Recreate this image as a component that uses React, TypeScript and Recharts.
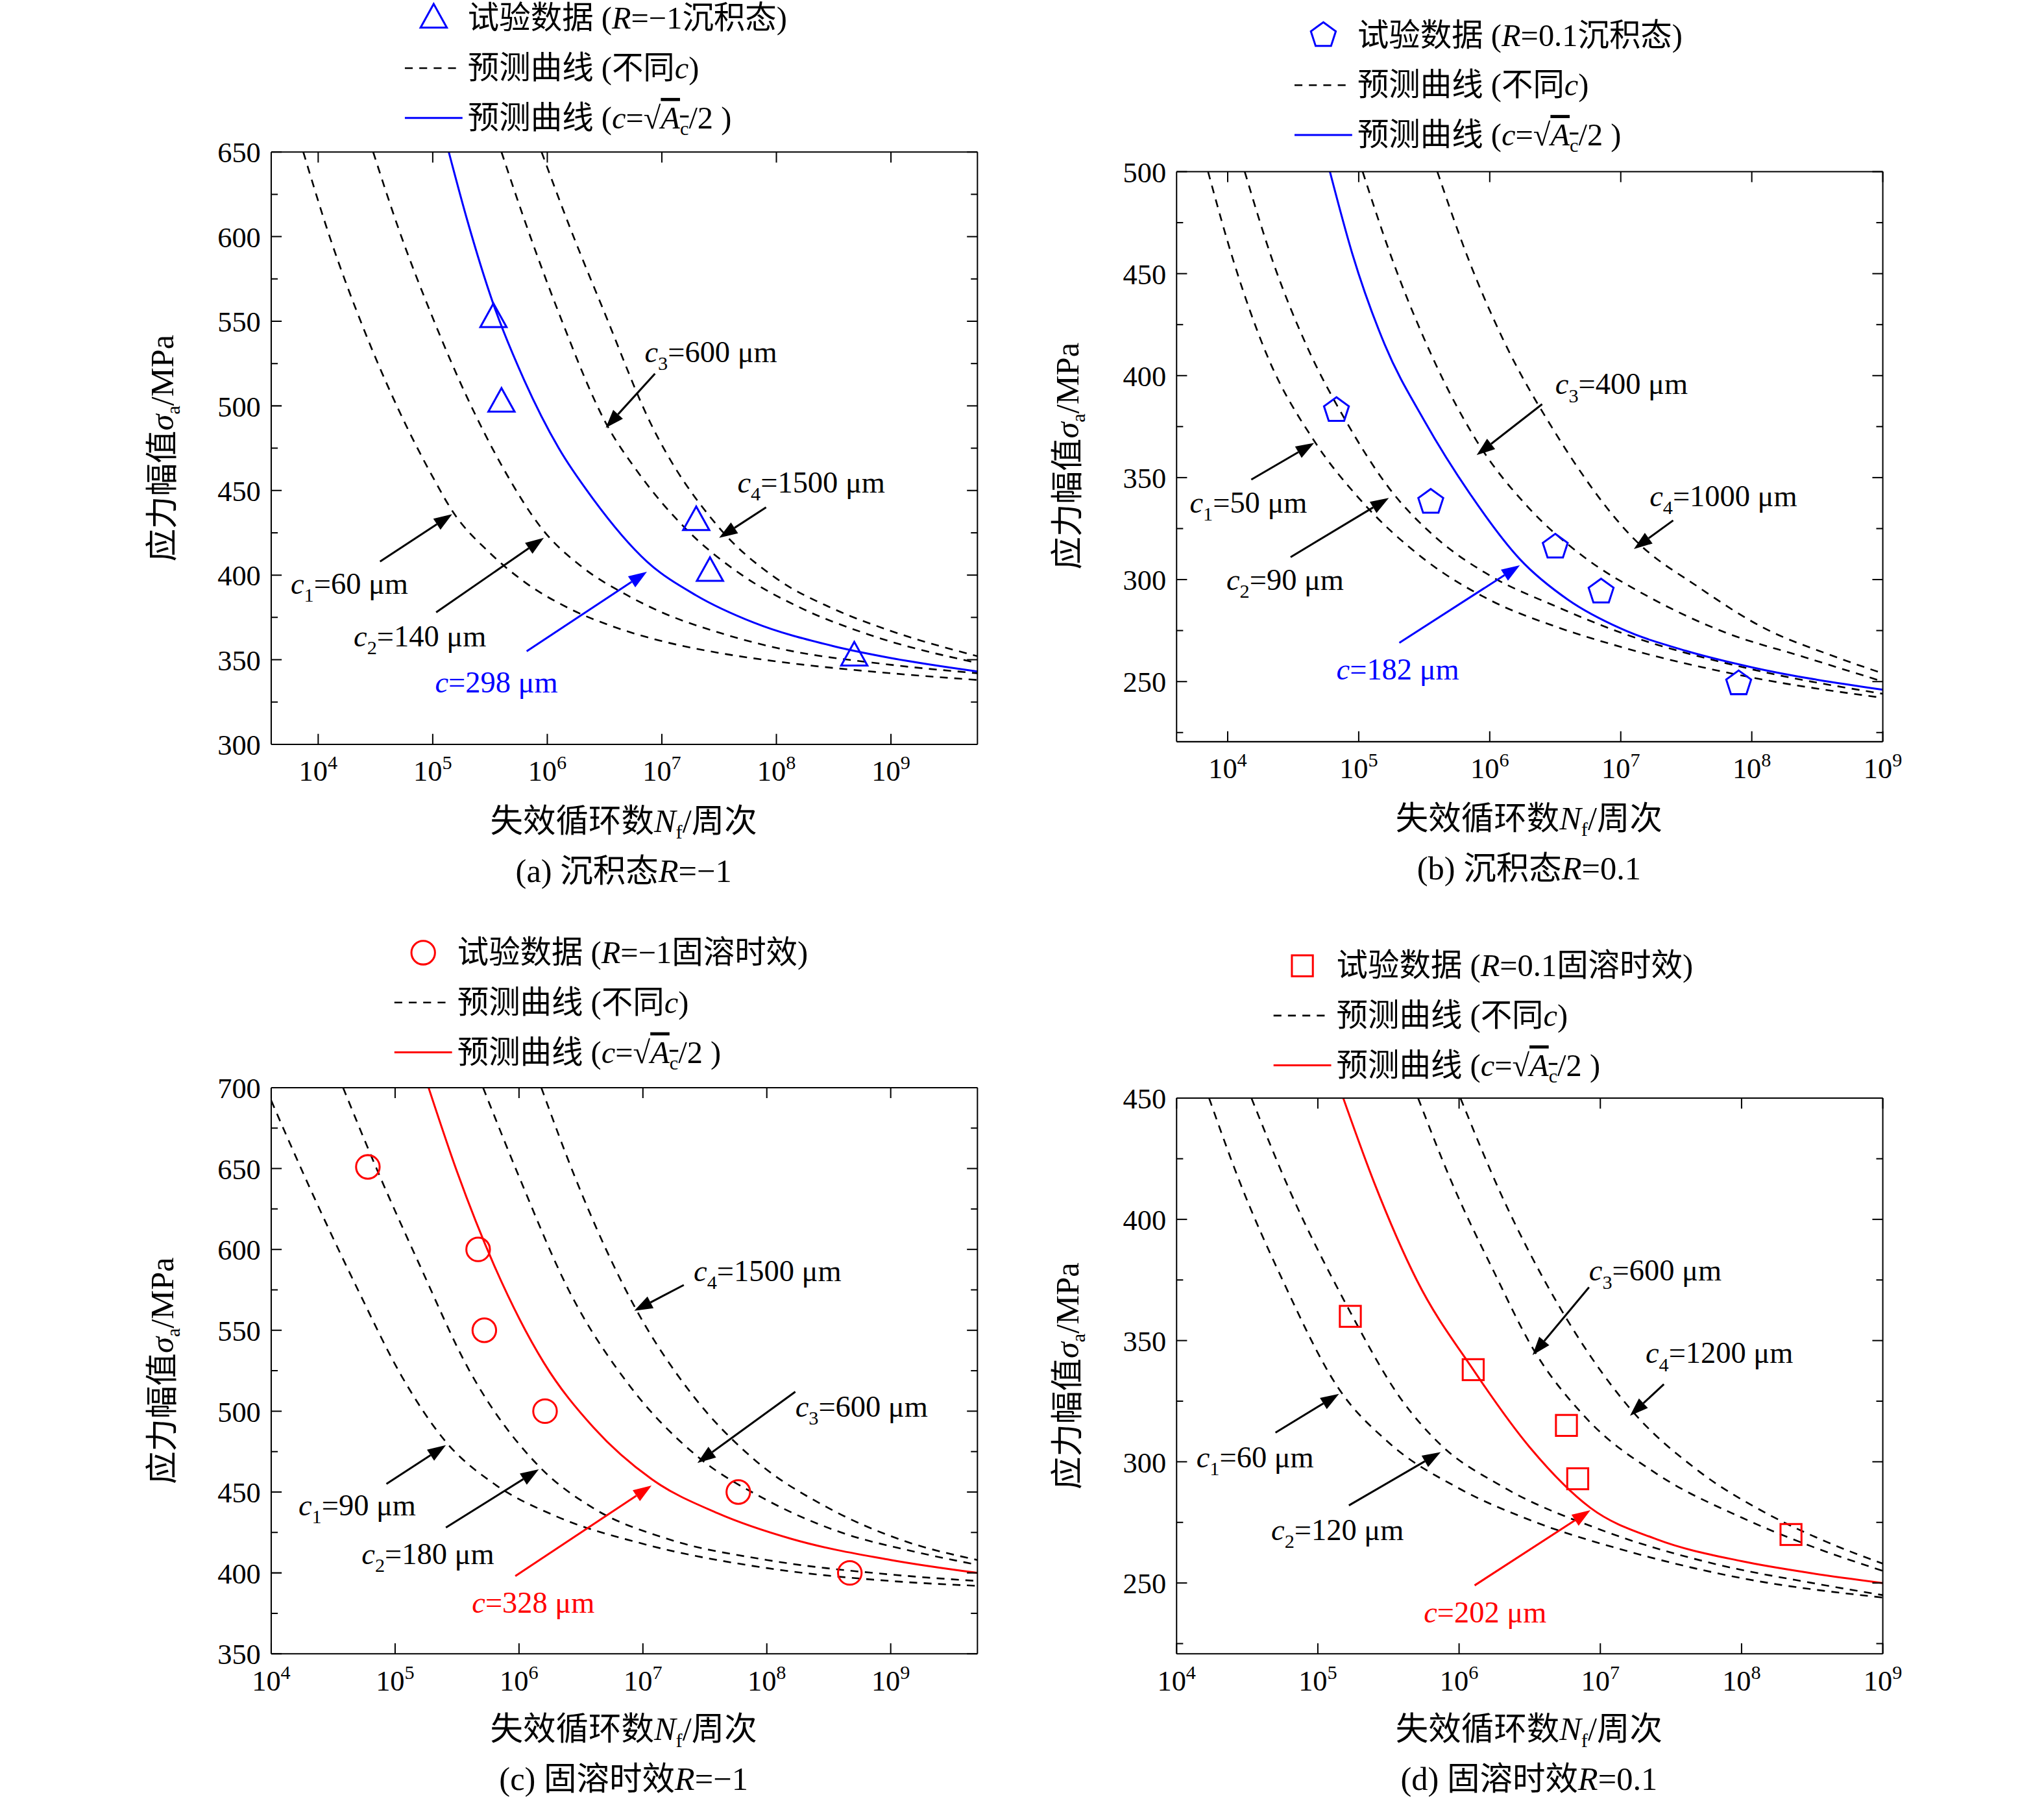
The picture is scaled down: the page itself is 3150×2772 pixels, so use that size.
import React from "react";
import { ComposedChart, Line, Scatter, XAxis, YAxis, ReferenceLine, ReferenceDot } from "recharts";

// curves as [lg N, sigma]
const aC1 = [[3.87, 650], [4.1, 600], [4.4, 545], [4.7, 498], [5.0, 458], [5.17, 438], [5.5, 413], [5.8, 396], [6.2, 380], [6.6, 369], [7, 361], [7.5, 354], [8, 349], [9, 342], [9.76, 338]];
const aC2 = [[4.48, 650], [4.7, 605], [5.0, 552], [5.3, 505], [5.6, 465], [5.97, 426], [6.3, 405], [6.7, 388], [7, 378], [7.5, 366], [8, 357], [9, 347], [9.76, 342]];
const aFit = [[5.14, 650], [5.3, 610], [5.53, 560], [5.8, 515], [6.1, 475], [6.4, 445], [6.87, 408], [7.3, 388], [7.8, 372], [8.5, 358], [9, 351], [9.76, 343]];
const aC3 = [[5.6, 650], [5.8, 610], [6.1, 555], [6.51, 490], [6.8, 460], [7.2, 428], [7.7, 400], [8.2, 381], [8.8, 365], [9.76, 348]];
const aC4 = [[5.95, 650], [6.2, 605], [6.5, 555], [6.9, 490], [7.5, 428], [8, 398], [8.5, 380], [9, 367], [9.76, 352]];
const aPts = [[5.53, 552], [5.6, 502], [7.3, 432], [7.42, 402], [8.68, 352]];

const bC1 = [[3.85, 500], [4.05, 455], [4.3, 410], [4.66, 368], [5.0, 340], [5.5, 310], [6, 290], [6.5, 277], [7, 267], [8, 252], [9, 242]];
const bC2 = [[4.13, 500], [4.35, 455], [4.6, 415], [4.9, 378], [5.23, 345], [5.6, 320], [6, 302], [6.5, 287], [7, 274], [8, 256], [9, 244]];
const bFit = [[4.78, 500], [4.95, 460], [5.2, 415], [5.5, 378], [5.85, 342], [6.23, 310], [6.6, 290], [7, 276], [7.5, 265], [8, 257], [9, 246]];
const bC3 = [[5.03, 500], [5.25, 458], [5.5, 418], [5.9, 368], [6.3, 335], [6.7, 312], [7.2, 292], [7.8, 274], [8.4, 262], [9, 250]];
const bC4 = [[5.6, 500], [5.85, 455], [6.1, 418], [6.5, 372], [7.1, 320], [7.6, 296], [8.1, 276], [8.6, 263], [9, 254]];
const bPts = [[4.83, 383], [5.55, 338], [6.5, 316], [6.85, 294], [7.9, 249]];

const cC1 = [[4, 692], [4.3, 640], [4.7, 575], [5.05, 522], [5.41, 481], [5.8, 455], [6.3, 435], [7, 418], [8, 403], [9, 395], [9.7, 392]];
const cC2 = [[4.58, 700], [4.85, 650], [5.2, 590], [5.6, 525], [6.16, 466], [6.6, 440], [7.2, 421], [8, 408], [9, 399], [9.7, 395]];
const cFit = [[5.27, 700], [5.5, 648], [5.8, 590], [6.2, 530], [6.6, 490], [7.07, 458], [7.6, 437], [8.2, 421], [9, 408], [9.7, 400]];
const cC3 = [[5.71, 700], [6, 645], [6.4, 575], [6.9, 515], [7.44, 472], [8, 445], [8.6, 425], [9.2, 413], [9.7, 405]];
const cC4 = [[6.18, 700], [6.45, 645], [6.93, 565], [7.4, 510], [7.9, 470], [8.5, 440], [9.1, 420], [9.7, 408]];
const cPts = [[4.78, 651], [5.67, 600], [5.72, 550], [6.21, 500], [7.77, 450], [8.67, 400]];

const dC1 = [[4.23, 450], [4.45, 415], [4.75, 375], [5.15, 330], [5.5, 308], [6, 289], [6.5, 276], [7.2, 263], [8, 252], [9, 244]];
const dC2 = [[4.53, 450], [4.8, 412], [5.2, 365], [5.6, 325], [5.87, 307], [6.3, 290], [7, 272], [7.8, 258], [8.5, 250], [9, 245]];
const dFit = [[5.18, 450], [5.4, 415], [5.7, 375], [6.1, 338], [6.5, 306], [6.93, 281], [7.4, 268], [8, 259], [8.5, 254], [9, 250]];
const dC3 = [[5.71, 450], [5.95, 415], [6.25, 378], [6.52, 347], [6.9, 318], [7.4, 295], [8, 277], [8.5, 265], [9, 255]];
const dC4 = [[6.01, 450], [6.3, 410], [6.7, 365], [7.21, 322], [7.7, 296], [8.2, 278], [8.6, 267], [9, 258]];
const dPts = [[5.23, 360], [6.1, 338], [6.76, 315], [6.84, 293], [8.35, 270]];

const xTicks = [1e4, 1e5, 1e6, 1e7, 1e8, 1e9];
const aYTicks = [300, 350, 400, 450, 500, 550, 600, 650];
const bYTicks = [250, 300, 350, 400, 450, 500];
const cYTicks = [350, 400, 450, 500, 550, 600, 650, 700];
const dYTicks = [250, 300, 350, 400, 450];

// annotations: [label lgN, label σ, tail lgN, tail σ, head lgN, head σ, sub, text]
const aNotes = [
  [3.76, 395, 4.54, 408, 5.17, 436, "1", "=60 μm"],
  [4.31, 364, 5.03, 378, 5.97, 422, "2", "=140 μm"],
  [5.02, 337, 5.82, 355, 6.87, 402, "", "=298 μm"],
  [6.85, 532, 6.94, 519, 6.51, 487, "3", "=600 μm"],
  [7.66, 455, 7.91, 440, 7.5, 422, "4", "=1500 μm"],
];
const bNotes = [
  [3.71, 338, 4.18, 349, 4.66, 367, "1", "=50 μm"],
  [3.99, 300, 4.48, 311, 5.23, 340, "2", "=90 μm"],
  [4.83, 256, 5.31, 269, 6.23, 307, "", "=182 μm"],
  [6.5, 396, 6.4, 386, 5.9, 361, "3", "=400 μm"],
  [7.22, 341, 7.4, 329, 7.1, 315, "4", "=1000 μm"],
];
const cNotes = [
  [4.22, 442, 4.93, 455, 5.41, 479, "1", "=90 μm"],
  [4.73, 412, 5.41, 428, 6.16, 464, "2", "=180 μm"],
  [5.62, 382, 5.97, 398, 7.07, 454, "", "=328 μm"],
  [8.23, 503, 8.23, 512, 7.44, 468, "3", "=600 μm"],
  [7.41, 587, 7.33, 578, 6.93, 562, "4", "=1500 μm"],
];
const dNotes = [
  [4.14, 302, 4.7, 312, 5.15, 328, "1", "=60 μm"],
  [4.67, 272, 5.22, 282, 5.87, 304, "2", "=120 μm"],
  [5.75, 238, 6.11, 249, 6.93, 280, "", "=202 μm"],
  [6.92, 379, 6.92, 372, 6.52, 344, "3", "=600 μm"],
  [7.32, 345, 7.45, 332, 7.21, 319, "4", "=1200 μm"],
];

const FONT = "'Liberation Serif','Times New Roman','Noto Sans CJK SC',serif";
const toPts = (arr: number[][]) => arr.map(([lg, s]) => ({ N: Math.pow(10, lg), s }));

const XTick = ({ x, y, payload, top }: any) => {
  const e = Math.round(Math.log10(payload.value));
  return (
    <g>
      <line x1={x} x2={x} y1={y} y2={top ? y + 8 : y - 8} stroke="#000" />
      {!top && (
        <text x={x} y={y + 28} textAnchor="middle" fontSize={22} fontFamily={FONT} fill="#000">
          10<tspan dy={-9} fontSize={15}>{e}</tspan>
        </text>
      )}
    </g>
  );
};

const YTick = ({ x, y, payload, right }: any) => (
  <g>
    <line x1={x} x2={right ? x - 8 : x + 8} y1={y} y2={y} stroke="#000" />
    {!right && (
      <text x={x - 8} y={y + 8} textAnchor="end" fontSize={22} fontFamily={FONT} fill="#000">
        {payload.value}
      </text>
    )}
  </g>
);

const Arrow = (color: string) => (p: any) => {
  const { x1, y1, x2, y2 } = p;
  const a = Math.atan2(y2 - y1, x2 - x1);
  const L = 14, W = 5;
  const bx = x2 - L * Math.cos(a), by = y2 - L * Math.sin(a);
  const pts = `${x2},${y2} ${bx - W * Math.sin(a)},${by + W * Math.cos(a)} ${bx + W * Math.sin(a)},${by - W * Math.cos(a)}`;
  return (
    <g>
      <line x1={x1} y1={y1} x2={bx} y2={by} stroke={color} strokeWidth={1.5} />
      <polygon points={pts} fill={color} />
    </g>
  );
};

const marker = (kind: string, color: string) => (p: any) => {
  const { cx, cy } = p;
  if (cx == null) return <g />;
  const st = { fill: "none", stroke: color, strokeWidth: 1.5 };
  if (kind === "tri") return <polygon points={`${cx},${cy - 11} ${cx - 10},${cy + 7} ${cx + 10},${cy + 7}`} {...st} />;
  if (kind === "circle") return <circle cx={cx} cy={cy} r={9} {...st} />;
  if (kind === "square") return <rect x={cx - 8} y={cy - 8} width={16} height={16} {...st} />;
  const pts = [0, 1, 2, 3, 4].map((i) => {
    const t = -Math.PI / 2 + (i * 2 * Math.PI) / 5;
    return `${cx + 10 * Math.cos(t)},${cy + 10 * Math.sin(t)}`;
  });
  return <polygon points={pts.join(" ")} {...st} />;
};

function Panel(props: any) {
  const { left, top, w, h, xDom, yDom, yTicks, yMinor, curves, fit, pts, kind, color, notes } = props;
  const allY = [...yTicks, ...yMinor].sort((a: number, b: number) => a - b);
  const xd = [Math.pow(10, xDom[0]), Math.pow(10, xDom[1])];
  return (
    <div style={{ position: "absolute", left: left - 70, top: top - 21 }}>
      <ComposedChart width={70 + w + 1 + 20} height={21 + h + 40} margin={{ top: 20, right: 20, left: 0, bottom: 0 }} style={{ overflow: "visible" }}>
        <XAxis xAxisId="b" dataKey="N" type="number" scale="log" domain={xd} allowDataOverflow ticks={xTicks} tickSize={0} tickMargin={0} height={40} interval={0} stroke="#000" tick={<XTick />} />
        <XAxis xAxisId="t" orientation="top" dataKey="N" type="number" scale="log" domain={xd} allowDataOverflow ticks={xTicks} tickSize={0} tickMargin={0} height={1} interval={0} stroke="#000" tick={<XTick top />} />
        <YAxis yAxisId="l" type="number" domain={yDom} allowDataOverflow ticks={allY} tickSize={0} tickMargin={0} width={70} interval={0} stroke="#000"
          tick={(p: any) => (yTicks.includes(p.payload.value) ? <YTick {...p} /> : <line x1={p.x} x2={p.x + 5} y1={p.y} y2={p.y} stroke="#000" />)} />
        <YAxis yAxisId="r" orientation="right" type="number" domain={yDom} allowDataOverflow ticks={allY} tickSize={0} tickMargin={0} width={1} interval={0} stroke="#000"
          tick={(p: any) => (yTicks.includes(p.payload.value) ? <YTick {...p} right /> : <line x1={p.x} x2={p.x - 5} y1={p.y} y2={p.y} stroke="#000" />)} />
        {curves.map((c: number[][], i: number) => (
          <Line key={i} xAxisId="b" yAxisId="l" data={toPts(c)} dataKey="s" type="monotone" stroke="#000" strokeWidth={1.3} strokeDasharray="6 5" dot={false} isAnimationActive={false} />
        ))}
        <Line xAxisId="b" yAxisId="l" data={toPts(fit)} dataKey="s" type="monotone" stroke={color} strokeWidth={1.5} dot={false} isAnimationActive={false} />
        <Scatter xAxisId="b" yAxisId="l" data={toPts(pts)} dataKey="s" shape={marker(kind, color)} isAnimationActive={false} />
        {notes.map((n: any[], i: number) => {
          const col = n[6] === "" ? color : "#000";
          return (
            <ReferenceLine key={"a" + i} xAxisId="b" yAxisId="l" ifOverflow="visible"
              segment={[{ x: Math.pow(10, n[2]), y: n[3] }, { x: Math.pow(10, n[4]), y: n[5] }]} shape={Arrow(col)} />
          );
        })}
        {notes.map((n: any[], i: number) => {
          const col = n[6] === "" ? color : "#000";
          return (
            <ReferenceDot key={"t" + i} xAxisId="b" yAxisId="l" ifOverflow="visible" x={Math.pow(10, n[0])} y={n[1]}
              shape={(p: any) => (
                <text x={p.cx} y={p.cy + 8} fontSize={23} fontFamily={FONT} fill={col}>
                  <tspan fontStyle="italic">c</tspan>
                  {n[6] !== "" && <tspan dy={6} fontSize={15}>{n[6]}</tspan>}
                  <tspan dy={n[6] !== "" ? -6 : 0}>{n[7]}</tspan>
                </text>
              )} />
          );
        })}
      </ComposedChart>
    </div>
  );
}

function Legend({ x, y, kind, color, r }: any) {
  const T = { fontSize: 24, fontFamily: FONT, fill: "#000" };
  return (
    <g>
      {marker(kind, color)({ cx: x + 22, cy: y })}
      <text x={x + 48} y={y + 8} {...T}>试验数据 (<tspan fontStyle="italic">R</tspan>={r})</text>
      <line x1={x} x2={x + 44} y1={y + 38} y2={y + 38} stroke="#000" strokeDasharray="6 5" strokeWidth={1.3} />
      <text x={x + 48} y={y + 46} {...T}>预测曲线 (不同<tspan fontStyle="italic">c</tspan>)</text>
      <line x1={x} x2={x + 44} y1={y + 76} y2={y + 76} stroke={color} strokeWidth={1.5} />
      <text x={x + 48} y={y + 84} {...T}>
        预测曲线 (<tspan fontStyle="italic">c</tspan>=√<tspan fontStyle="italic" textDecoration="overline">A</tspan><tspan dy={5} fontSize={15} textDecoration="overline">c</tspan><tspan dy={-5}>/2 )</tspan>
      </text>
    </g>
  );
}

function Titles({ cx, yLabelX, midY, xLabY, cap, capR }: any) {
  const T = { fontSize: 25, fontFamily: FONT, fill: "#000" };
  return (
    <g>
      <text transform={`translate(${yLabelX},${midY}) rotate(-90)`} textAnchor="middle" {...T}>
        应力幅值<tspan fontStyle="italic">σ</tspan><tspan dy={5} fontSize={15}>a</tspan><tspan dy={-5}>/MPa</tspan>
      </text>
      <text x={cx} y={xLabY} textAnchor="middle" {...T}>
        失效循环数<tspan fontStyle="italic">N</tspan><tspan dy={5} fontSize={15}>f</tspan><tspan dy={-5}>/周次</tspan>
      </text>
      <text x={cx} y={xLabY + 38} textAnchor="middle" {...T}>
        {cap}<tspan fontStyle="italic">R</tspan>={capR}
      </text>
    </g>
  );
}

export default function App() {
  return (
    <div style={{ width: 3150, height: 2772, position: "fixed", left: 0, top: 0, background: "#fff", overflow: "hidden" }}>
      <div style={{ position: "absolute", left: 0, top: 0, width: 1560, height: 1372, transform: "scale(2.0192)", transformOrigin: "0 0" }}>
        <svg width={1560} height={1372} style={{ position: "absolute", left: 0, top: 0 }}>
          <Legend x={309} y={14} kind="tri" color="#0000ff" r="−1沉积态" />
          <Legend x={988} y={27} kind="pent" color="#0000ff" r="0.1沉积态" />
          <Legend x={301} y={727} kind="circle" color="#ff0000" r="−1固溶时效" />
          <Legend x={972} y={737} kind="square" color="#ff0000" r="0.1固溶时效" />
          <Titles cx={476} yLabelX={132} midY={342} xLabY={635} cap="(a) 沉积态" capR="−1" />
          <Titles cx={1167} yLabelX={823} midY={348} xLabY={633} cap="(b) 沉积态" capR="0.1" />
          <Titles cx={476} yLabelX={132} midY={1046} xLabY={1328} cap="(c) 固溶时效" capR="−1" />
          <Titles cx={1167} yLabelX={823} midY={1050} xLabY={1328} cap="(d) 固溶时效" capR="0.1" />
        </svg>
        <Panel left={207} top={116} w={539} h={452} xDom={[3.59, 9.755]} yDom={[300, 650]} yTicks={aYTicks} yMinor={[325, 375, 425, 475, 525, 575, 625]}
          curves={[aC1, aC2, aC3, aC4]} fit={aFit} pts={aPts} kind="tri" color="#0000ff" notes={aNotes} />
        <Panel left={898} top={131} w={539} h={435} xDom={[3.61, 9]} yDom={[220.5, 500]} yTicks={bYTicks} yMinor={[225, 275, 325, 375, 425, 475]}
          curves={[bC1, bC2, bC3, bC4]} fit={bFit} pts={bPts} kind="pent" color="#0000ff" notes={bNotes} />
        <Panel left={207} top={830} w={539} h={432} xDom={[4, 9.7]} yDom={[350, 700]} yTicks={cYTicks} yMinor={[375, 425, 475, 525, 575, 625, 675]}
          curves={[cC1, cC2, cC3, cC4]} fit={cFit} pts={cPts} kind="circle" color="#ff0000" notes={cNotes} />
        <Panel left={898} top={838} w={539} h={424} xDom={[4, 9]} yDom={[220.8, 450]} yTicks={dYTicks} yMinor={[225, 275, 325, 375, 425]}
          curves={[dC1, dC2, dC3, dC4]} fit={dFit} pts={dPts} kind="square" color="#ff0000" notes={dNotes} />
      </div>
    </div>
  );
}
